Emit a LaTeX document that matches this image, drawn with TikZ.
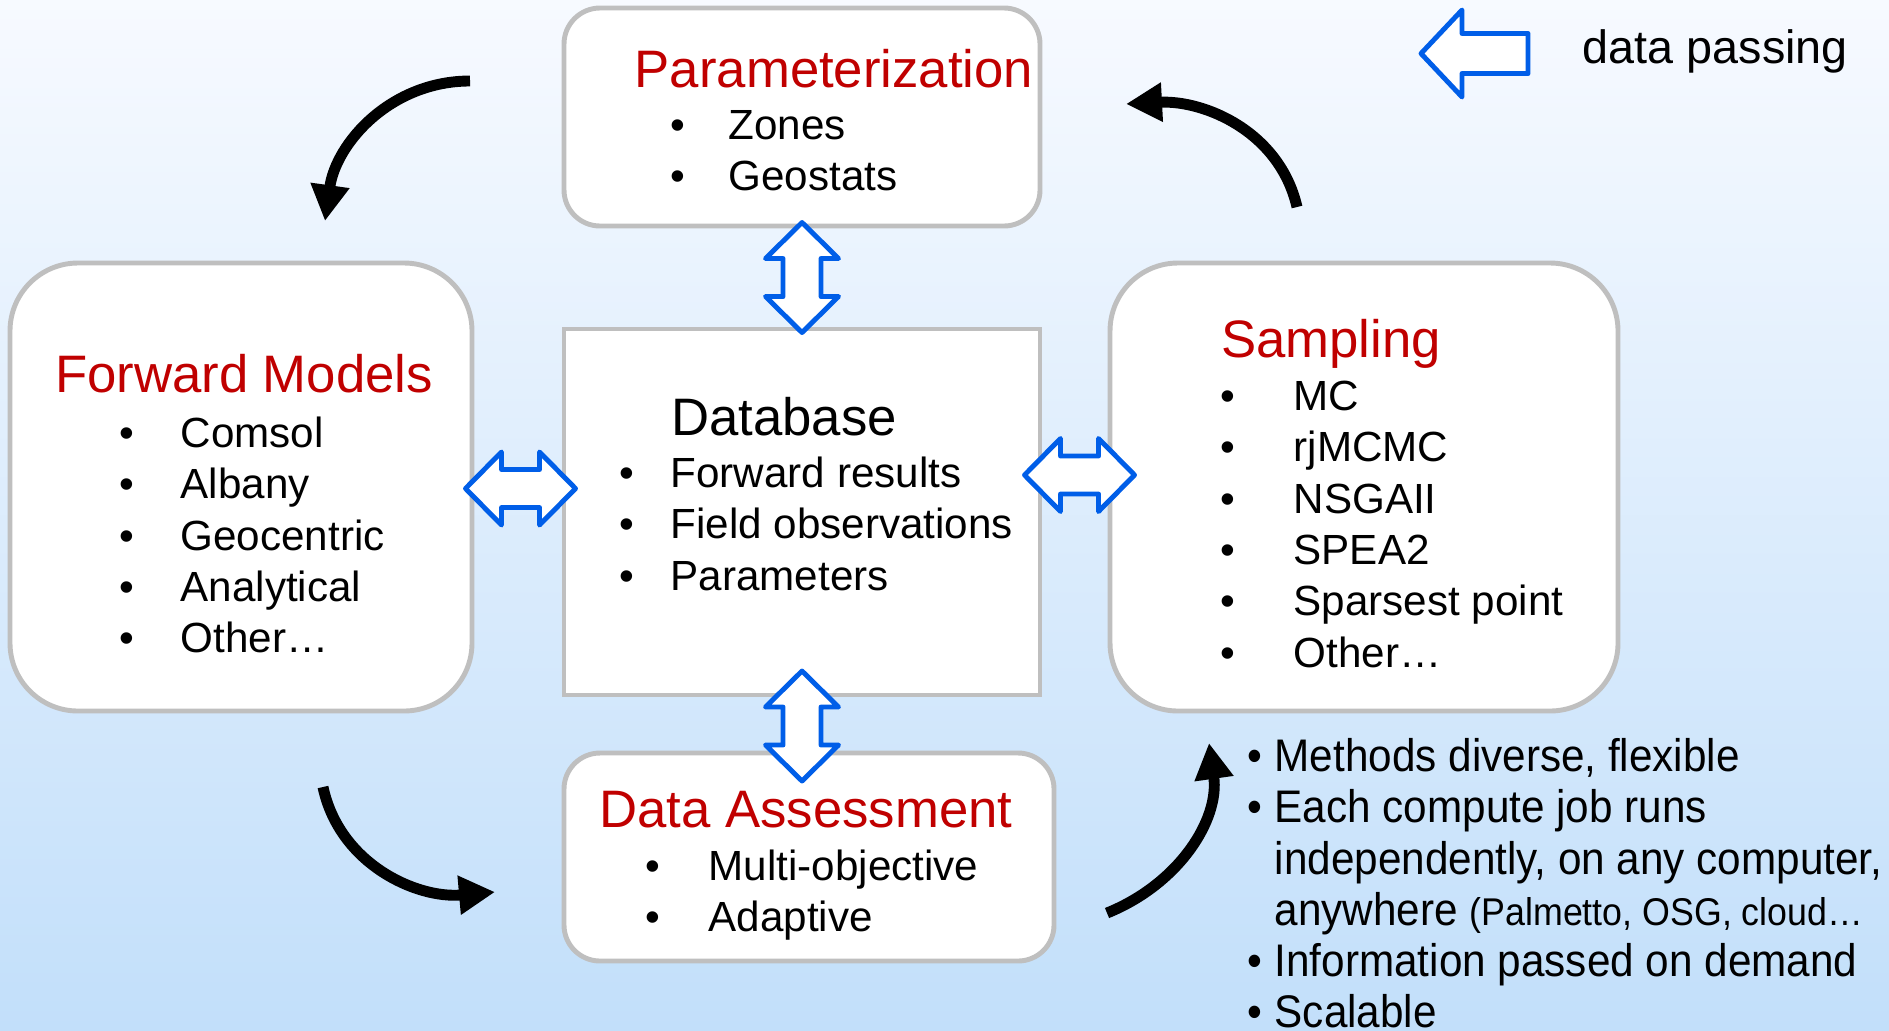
\documentclass[tikz,border=0pt]{standalone}
\usepackage{fontspec}
\setmainfont{Liberation Sans}
\newfontfamily\narrowfont[FakeStretch=0.925]{Liberation Sans}
\usetikzlibrary{positioning,arrows.meta}
\definecolor{ink}{RGB}{0,0,0}
\definecolor{titlered}{RGB}{192,0,0}
\definecolor{boxgray}{RGB}{191,191,191}
\definecolor{passblue}{RGB}{0,94,232}
\definecolor{bgtop}{RGB}{247,250,255}
\definecolor{bgbot}{RGB}{194,223,250}
\newcommand{\itm}[2]{\strut\makebox[#1][l]{•}#2}

\begin{document}
\begin{tikzpicture}[
  panel/.style={draw=boxgray,line width=1.4pt,fill=white,inner sep=0pt},
  title/.style={font=\fontsize{15}{18}\selectfont,text=titlered,anchor=base,inner sep=0pt},
  list/.style={anchor=north west,inner sep=0pt,align=left,font=\fontsize{12}{14.6}\selectfont},
  passline/.style={draw=passblue,fill=white,line width=1.4pt,line join=round},
  flow/.style={-{Triangle[length=0.36cm,width=0.37cm]},line width=3.1pt,draw=ink},
  dpass/.pic={\draw[passline] (-0.55,0) -- (-0.19,0.365) -- (-0.19,0.19) -- (0.19,0.19) -- (0.19,0.365)
    -- (0.55,0) -- (0.19,-0.365) -- (0.19,-0.19) -- (-0.19,-0.19) -- (-0.19,-0.365) -- cycle;}
]
\useasboundingbox (0,0) rectangle (18.89,-10.30);
\shade[top color=bgtop,bottom color=bgbot] (0,0) rectangle (18.89,-10.30);

% boxes
\node[panel,rounded corners=0.36cm,minimum width=4.76cm,minimum height=2.18cm] (param) at (8.02,-1.17) {};
\node[panel,rounded corners=0.68cm,minimum width=4.62cm,minimum height=4.48cm] (fwd) at (2.41,-4.87) {};
\node[panel,minimum width=4.76cm,minimum height=3.66cm] (db) at (8.02,-5.12) {};
\node[panel,rounded corners=0.68cm,minimum width=5.08cm,minimum height=4.48cm] (samp) at (13.64,-4.87) {};
\node[panel,rounded corners=0.36cm,minimum width=4.90cm,minimum height=2.08cm] (assess) at (8.09,-8.57) {};

% titles and items
\node[title] (paramT) at (8.34,-0.87) {Parameterization};
\node[list] (paramL) at (6.70,-1.03) {\itm{0.58cm}{Zones}\\\itm{0.58cm}{Geostats}};
\node[title] (fwdT) at (2.44,-3.92) {Forward Models};
\node[list] (fwdL) at (1.19,-4.11) {\itm{0.61cm}{Comsol}\\\itm{0.61cm}{Albany}\\\itm{0.61cm}{Geocentric}\\
  \itm{0.61cm}{Analytical}\\\itm{0.61cm}{Other…}};
\node[title,text=ink] (dbT) at (7.84,-4.35) {Database};
\node[list] (dbL) at (6.19,-4.51) {\itm{0.51cm}{Forward results}\\\itm{0.51cm}{Field observations}\\
  \itm{0.51cm}{Parameters}};
\node[title] (sampT) at (13.31,-3.57) {Sampling};
\node[list] (sampL) at (12.20,-3.74) {\itm{0.73cm}{MC}\\\itm{0.73cm}{rjMCMC}\\\itm{0.73cm}{NSGAII}\\
  \itm{0.73cm}{SPEA2}\\\itm{0.73cm}{Sparsest point}\\\itm{0.73cm}{Other…}};
\node[title] (assessT) at (8.06,-8.27) {Data Assessment};
\node[list] (assessL) at (6.45,-8.44) {\itm{0.63cm}{Multi-objective}\\\itm{0.63cm}{Adaptive}};

% data passing
\pic[rotate=90] at (8.02,-2.775) {dpass};
\pic[rotate=90] at (8.02,-7.26) {dpass};
\pic at (5.205,-4.885) {dpass};
\pic at (10.795,-4.75) {dpass};

% legend
\draw[passline] (14.21,-0.535) -- (14.62,-0.10) -- (14.62,-0.335) -- (15.28,-0.335) -- (15.28,-0.735)
  -- (14.62,-0.735) -- (14.62,-0.97) -- cycle;
\node[anchor=base west,inner sep=0pt,font=\fontsize{13.3}{16}\selectfont] (legend) at (15.82,-0.63) {data passing};

% cycle arrows
\coordinate (c1s) at (4.70,-0.81);
\coordinate (c1e) at (3.25,-2.21);
\coordinate (c2s) at (12.97,-2.07);
\coordinate (c2e) at (11.26,-1.04);
\coordinate (c3s) at (3.23,-7.87);
\coordinate (c3e) at (4.95,-8.92);
\coordinate (c4s) at (11.07,-9.13);
\coordinate (c4e) at (12.09,-7.43);
\draw[flow] (c1s) to[out=180,in=82] (c1e);
\draw[flow] (c2s) to[out=103,in=3] (c2e);
\draw[flow] (c3s) to[out=282,in=185] (c3e);
\draw[flow] (c4s) to[out=22,in=278] (c4e);

% notes
\node[anchor=north west,inner sep=0pt,align=left,font=\narrowfont\fontsize{13}{14.55}\selectfont] (notes) at (12.47,-7.352)
  {\strut\makebox[0.27cm][l]{•}Methods diverse, flexible\\
   \strut\makebox[0.27cm][l]{•}Each compute job runs\\
   \strut\hspace*{0.27cm}independently, on any computer,\\
   \strut\hspace*{0.27cm}anywhere {\fontsize{11}{14.55}\selectfont(Palmetto, OSG, cloud…}\\
   \strut\makebox[0.27cm][l]{•}Information passed on demand\\
   \strut\makebox[0.27cm][l]{•}Scalable};
\end{tikzpicture}
\end{document}
